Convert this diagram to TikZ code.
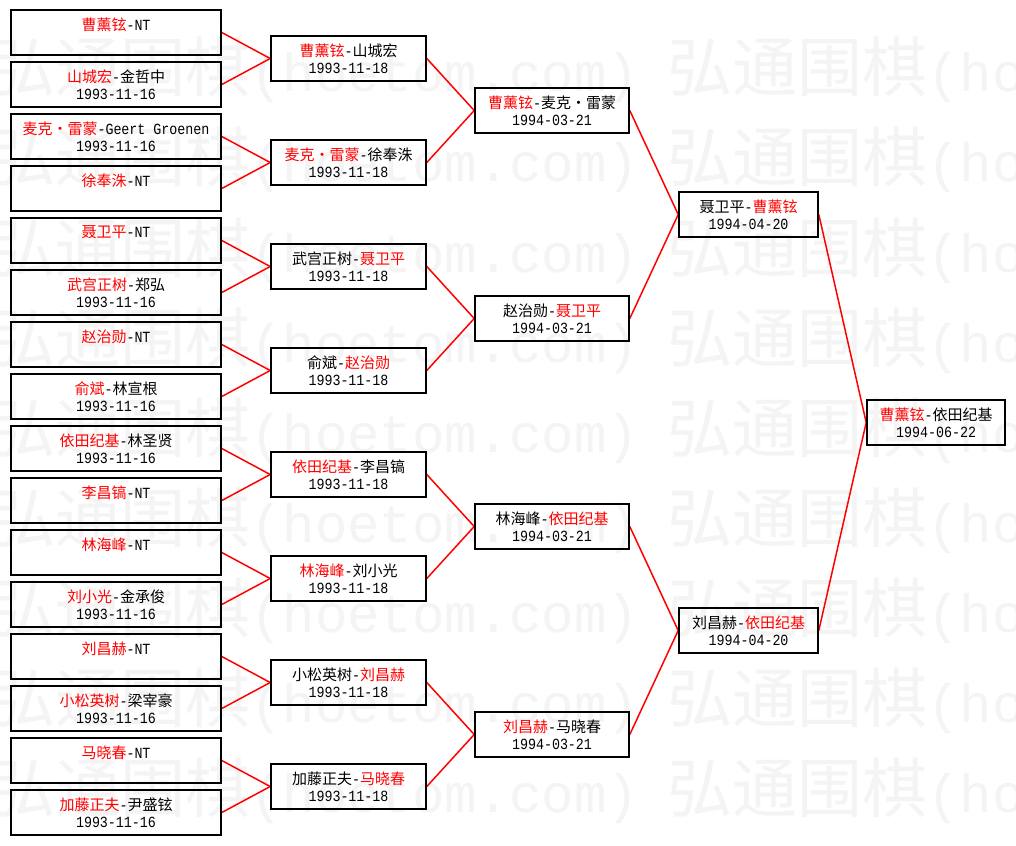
\documentclass[tikz,border=0pt]{standalone}
\usepackage{fontspec}
\setmainfont[FakeStretch=0.86]{Liberation Mono}
\newfontfamily\wmmono{Liberation Mono}
\newfontfamily\cjk{Noto Sans CJK SC}
\definecolor{wmgray}{RGB}{244,244,244}
\pgfdeclarelayer{bg}
\pgfdeclarelayer{mid}
\pgfsetlayers{bg,mid,main}
\tikzset{
  boxst/.style={draw=black, line width=1.6pt, rectangle, minimum height=45pt, inner sep=0pt},
  txt/.style={inner sep=0pt, font=\fontsize{15.5}{17}\selectfont},
  link/.style={draw=red, line width=1.5pt},
  wmtext/.style={inner sep=0pt, anchor=base west, text=wmgray, font=\wmmono\fontsize{54}{60}\selectfont}
}
\newcommand\R[1]{\textcolor{red}{{\cjk\fontsize{15}{16}\selectfont #1}}}
\newcommand\K[1]{{\cjk\fontsize{15}{16}\selectfont #1}}
\newcommand\mkbox[6]{%
  \node[boxst, minimum width=#4pt] (#1) at (#2,#3) {};
  \node[txt] (#1a) at ([yshift=8pt]#1.center) {#5};
  \node[txt] (#1b) at ([yshift=-9.5pt]#1.center) {#6};
}
\begin{document}
\begin{tikzpicture}[x=1pt,y=-1pt]
\useasboundingbox (0,0) rectangle (1016,845);
\clip (0,0) rectangle (1016,845);
\begin{pgfonlayer}{bg}
  \fill[white] (0,0) rectangle (1016,845);
  \foreach \r in {0,...,8}{
    \foreach \c in {0,1}{
      \node[wmtext] (wm\r\c) at ({-10+677*\c},{92+90*\r})
        {{\cjk\fontsize{65}{70}\selectfont 弘通围棋}(hoetom.com)};
    }
  }
\end{pgfonlayer}

% round 1
\mkbox{l1}{116}{32.5}{210}{\R{曹薰铉}-NT}{}
\mkbox{l2}{116}{84.5}{210}{\R{山城宏}-\K{金哲中}}{1993-11-16}
\mkbox{l3}{116}{136.5}{210}{\R{麦克・雷蒙}-Geert Groenen}{1993-11-16}
\mkbox{l4}{116}{188.5}{210}{\R{徐奉洙}-NT}{}
\mkbox{l5}{116}{240.5}{210}{\R{聂卫平}-NT}{}
\mkbox{l6}{116}{292.5}{210}{\R{武宫正树}-\K{郑弘}}{1993-11-16}
\mkbox{l7}{116}{344.5}{210}{\R{赵治勋}-NT}{}
\mkbox{l8}{116}{396.5}{210}{\R{俞斌}-\K{林宣根}}{1993-11-16}
\mkbox{l9}{116}{448.5}{210}{\R{依田纪基}-\K{林圣贤}}{1993-11-16}
\mkbox{l10}{116}{500.5}{210}{\R{李昌镐}-NT}{}
\mkbox{l11}{116}{552.5}{210}{\R{林海峰}-NT}{}
\mkbox{l12}{116}{604.5}{210}{\R{刘小光}-\K{金承俊}}{1993-11-16}
\mkbox{l13}{116}{656.5}{210}{\R{刘昌赫}-NT}{}
\mkbox{l14}{116}{708.5}{210}{\R{小松英树}-\K{梁宰豪}}{1993-11-16}
\mkbox{l15}{116}{760.5}{210}{\R{马晓春}-NT}{}
\mkbox{l16}{116}{812.5}{210}{\R{加藤正夫}-\K{尹盛铉}}{1993-11-16}

% round 2
\mkbox{s1}{348.5}{58.5}{155}{\R{曹薰铉}-\K{山城宏}}{1993-11-18}
\mkbox{s2}{348.5}{162.5}{155}{\R{麦克・雷蒙}-\K{徐奉洙}}{1993-11-18}
\mkbox{s3}{348.5}{266.5}{155}{\K{武宫正树}-\R{聂卫平}}{1993-11-18}
\mkbox{s4}{348.5}{370.5}{155}{\K{俞斌}-\R{赵治勋}}{1993-11-18}
\mkbox{s5}{348.5}{474.5}{155}{\R{依田纪基}-\K{李昌镐}}{1993-11-18}
\mkbox{s6}{348.5}{578.5}{155}{\R{林海峰}-\K{刘小光}}{1993-11-18}
\mkbox{s7}{348.5}{682.5}{155}{\K{小松英树}-\R{刘昌赫}}{1993-11-18}
\mkbox{s8}{348.5}{786.5}{155}{\K{加藤正夫}-\R{马晓春}}{1993-11-18}

% round 3
\mkbox{q1}{552}{110.5}{154}{\R{曹薰铉}-\K{麦克・雷蒙}}{1994-03-21}
\mkbox{q2}{552}{318.5}{154}{\K{赵治勋}-\R{聂卫平}}{1994-03-21}
\mkbox{q3}{552}{526.5}{154}{\K{林海峰}-\R{依田纪基}}{1994-03-21}
\mkbox{q4}{552}{734.5}{154}{\R{刘昌赫}-\K{马晓春}}{1994-03-21}

% round 4
\mkbox{h1}{748.5}{214.5}{139}{\K{聂卫平}-\R{曹薰铉}}{1994-04-20}
\mkbox{h2}{748.5}{630.5}{139}{\K{刘昌赫}-\R{依田纪基}}{1994-04-20}

% final
\mkbox{f}{936}{422.5}{138}{\R{曹薰铉}-\K{依田纪基}}{1994-06-22}

\begin{pgfonlayer}{mid}
  \draw[link] (l1.east) -- (s1.west);
  \draw[link] (l2.east) -- (s1.west);
  \draw[link] (l3.east) -- (s2.west);
  \draw[link] (l4.east) -- (s2.west);
  \draw[link] (l5.east) -- (s3.west);
  \draw[link] (l6.east) -- (s3.west);
  \draw[link] (l7.east) -- (s4.west);
  \draw[link] (l8.east) -- (s4.west);
  \draw[link] (l9.east) -- (s5.west);
  \draw[link] (l10.east) -- (s5.west);
  \draw[link] (l11.east) -- (s6.west);
  \draw[link] (l12.east) -- (s6.west);
  \draw[link] (l13.east) -- (s7.west);
  \draw[link] (l14.east) -- (s7.west);
  \draw[link] (l15.east) -- (s8.west);
  \draw[link] (l16.east) -- (s8.west);
  \draw[link] (s1.east) -- (q1.west);
  \draw[link] (s2.east) -- (q1.west);
  \draw[link] (s3.east) -- (q2.west);
  \draw[link] (s4.east) -- (q2.west);
  \draw[link] (s5.east) -- (q3.west);
  \draw[link] (s6.east) -- (q3.west);
  \draw[link] (s7.east) -- (q4.west);
  \draw[link] (s8.east) -- (q4.west);
  \draw[link] (q1.east) -- (h1.west);
  \draw[link] (q2.east) -- (h1.west);
  \draw[link] (q3.east) -- (h2.west);
  \draw[link] (q4.east) -- (h2.west);
  \draw[link] (h1.east) -- (f.west);
  \draw[link] (h2.east) -- (f.west);
\end{pgfonlayer}
\end{tikzpicture}
\end{document}
